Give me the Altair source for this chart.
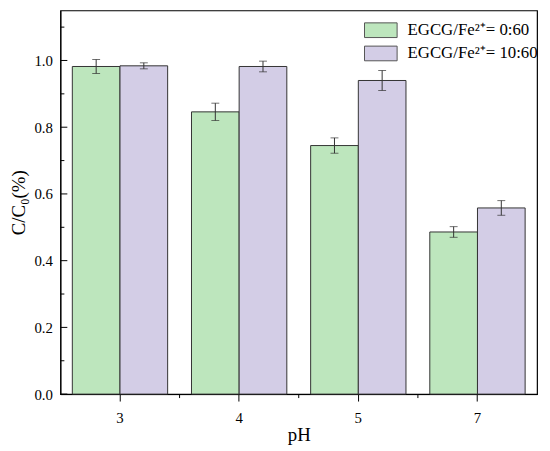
import altair as alt
import pandas as pd

ph = ["3", "4", "5", "7"]
series = ["EGCG/Fe²⁺= 0:60", "EGCG/Fe²⁺= 10:60"]
vals_0 = [0.982, 0.846, 0.745, 0.486]
err_0 = [0.021, 0.026, 0.023, 0.016]
vals_10 = [0.984, 0.982, 0.940, 0.558]
err_10 = [0.009, 0.016, 0.030, 0.022]
colors = ["#BDE6BD", "#D3CDE6"]
major_ticks = [0.0, 0.2, 0.4, 0.6, 0.8, 1.0]
minor_ticks = [0.1, 0.3, 0.5, 0.7, 0.9, 1.1]
minor_x = ["4", "5", "7"]

rows = []
for i, p in enumerate(ph):
    rows.append({"pH": p, "s": series[0], "v": vals_0[i], "lo": vals_0[i] - err_0[i], "hi": vals_0[i] + err_0[i]})
    rows.append({"pH": p, "s": series[1], "v": vals_10[i], "lo": vals_10[i] - err_10[i], "hi": vals_10[i] + err_10[i]})
df = pd.DataFrame(rows)

FONT = "Liberation Serif"
yscale = alt.Scale(domain=[0, 1.15], nice=False, zero=True)
xscale = alt.Scale(domain=ph, paddingInner=0.2, paddingOuter=0.1)

x_axis = alt.Axis(title="pH", orient="bottom", labelAngle=0, labelFontSize=15,
                  titleFontSize=19, labelFont=FONT, titleFont=FONT, tickSize=7,
                  labelPadding=10, titlePadding=0, domainColor="black",
                  tickColor="black", labelColor="black", titleColor="black",
                  titleFontWeight="normal", grid=False)
y_axis = alt.Axis(title="C/C₀(%)", values=major_ticks, format=".1f", tickSize=0,
                  labelFontSize=15, titleFontSize=19, labelFont=FONT, titleFont=FONT,
                  labelPadding=8, titlePadding=6, domainColor="black", grid=False,
                  labelColor="black", titleColor="black", titleFontWeight="normal")


def X():
    return alt.X("pH:N", scale=xscale, sort=ph, axis=x_axis)


def Y(field):
    return alt.Y(field, scale=yscale, axis=y_axis)


xoff = alt.XOffset("s:N", scale=alt.Scale(domain=series, paddingInner=0, paddingOuter=0))

bars = alt.Chart(df).mark_bar(stroke="#333333", strokeWidth=1, opacity=1).encode(
    x=X(),
    xOffset=xoff,
    y=Y("v:Q"),
    color=alt.Color("s:N", scale=alt.Scale(domain=series, range=colors),
                    legend=alt.Legend(title=None, orient="none", legendX=315, legendY=11,
                                      symbolType="M-2,-0.9L2,-0.9L2,0.9L-2,0.9Z",
                                      symbolSize=272, symbolStrokeColor="#555555",
                                      symbolStrokeWidth=1, symbolOpacity=1,
                                      labelFont=FONT, labelFontSize=17, labelColor="black",
                                      labelOffset=18, rowPadding=3.5, padding=0,
                                      labelLimit=300)),
)

err_rule = alt.Chart(df).mark_rule(color="#333333", strokeWidth=1).encode(
    x=X(), xOffset=xoff, y=Y("lo:Q"), y2="hi:Q",
)
err_lo = alt.Chart(df).mark_tick(color="#333333", thickness=1, size=8).encode(
    x=X(), xOffset=xoff, y=Y("lo:Q"))
err_hi = alt.Chart(df).mark_tick(color="#333333", thickness=1, size=8).encode(
    x=X(), xOffset=xoff, y=Y("hi:Q"))

maj = alt.Chart(pd.DataFrame({"t": major_ticks})).mark_rule(color="black", strokeWidth=1).encode(
    y=Y("t:Q"), x=alt.value(0), x2=alt.value(7))
mnr = alt.Chart(pd.DataFrame({"t": minor_ticks})).mark_rule(color="black", strokeWidth=1).encode(
    y=Y("t:Q"), x=alt.value(0), x2=alt.value(4))

xminor = alt.Chart(pd.DataFrame({"pH": minor_x})).mark_rule(
    color="black", strokeWidth=1, xOffset=-12.05).encode(
    x=alt.X("pH:N", scale=xscale, sort=ph, axis=x_axis, bandPosition=0),
    y=alt.value(388), y2=alt.value(392))

chart = alt.layer(bars, err_rule, err_lo, err_hi, maj, mnr, xminor).properties(
    width=482, height=388,
    autosize=alt.AutoSizeParams(type="none"),
    padding={"left": 53, "top": 0, "right": 5, "bottom": 50},
    background="white",
).configure_view(stroke="black", strokeWidth=1.2).configure_axis(grid=False)

chart.save("out.html", embed_options={"renderer": "svg", "actions": False})
